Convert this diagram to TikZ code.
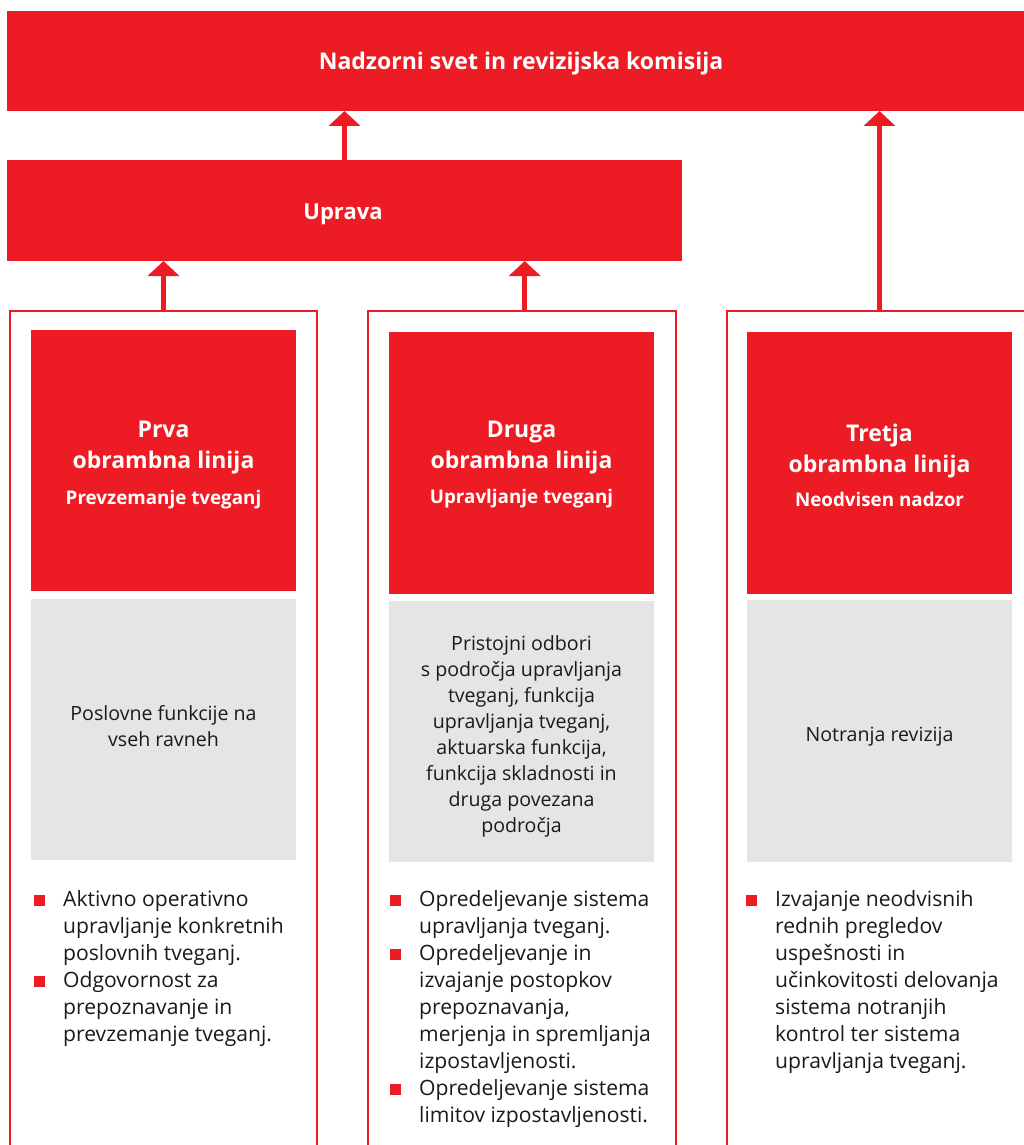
\documentclass[tikz,border=0pt]{standalone}
\usepackage{fontspec}
\setmainfont{Open Sans}
\usetikzlibrary{arrows.meta}
\definecolor{brandred}{HTML}{ED1C24}
\definecolor{panelgray}{HTML}{E7E5E3}
\definecolor{ink}{HTML}{1A1A1A}

\begin{document}
\begin{tikzpicture}[x=1pt,y=-1pt,
  bar/.style={fill=brandred, anchor=north west, inner sep=0pt, outer sep=0pt},
  bartxt/.style={anchor=base, inner sep=0pt, text=white, font=\bfseries},
  colframe/.style={draw=brandred, line width=2pt, anchor=north west, inner sep=0pt,
    outer sep=0pt, minimum height=850pt},
  headbox/.style={fill=brandred, anchor=north west, inner sep=0pt, outer sep=0pt,
    minimum width=265pt},
  graybox/.style={fill=panelgray, anchor=north west, inner sep=0pt, outer sep=0pt,
    minimum width=265pt},
  graytxt/.style={anchor=base, inner sep=0pt, text=ink,
    font=\fontsize{19.6}{26}\selectfont},
  headtxt/.style={anchor=base, inner sep=0pt, text=white,
    font=\fontsize{23}{31}\selectfont\bfseries},
  subtxt/.style={anchor=base, inner sep=0pt, text=white,
    font=\fontsize{18.8}{22}\selectfont\bfseries},
  item/.style={anchor=base west, inner sep=0pt, text=ink,
    font=\fontsize{21.1}{27}\selectfont},
  bsq/.style={fill=brandred, anchor=south west, inner sep=0pt, minimum size=10.5pt},
  arr/.style={draw=brandred, line width=4.8pt, -{Triangle[width=31pt,length=15pt]}}
]
\useasboundingbox (0,0) rectangle (1024,1145);
\fill[white] (0,0) rectangle (1024,1145);
\clip (0,0) rectangle (1024,1145);

% governing bodies
\node[bar, minimum width=1028pt, minimum height=100pt] (top) at (7,11) {};
\node[bartxt, font=\fontsize{23}{28}\selectfont\bfseries] (toptxt) at (521,70)
  {Nadzorni svet in revizijska komisija};
\node[bar, minimum width=675pt, minimum height=101pt] (uprava) at (7,160) {};
\node[bartxt, font=\fontsize{22}{28}\selectfont\bfseries] (upravatxt) at (343,219) {Uprava};

% column frames
\node[colframe, minimum width=307pt] (f1) at (10,310.5) {};
\node[colframe, minimum width=308pt] (f2) at (367.7,310.5) {};
\node[colframe, minimum width=320pt] (f3) at (726.5,310.5) {};

% red heading boxes
\node[headbox, minimum height=261pt] (r1) at (31,330) {};
\node[headbox, minimum height=262pt] (r2) at (389,332) {};
\node[headbox, minimum height=262pt] (r3) at (747,332) {};

\node[headtxt] (h1) at (163.5,437) {\parbox[t]{260pt}{\centering Prva\\obrambna linija}};
\node[subtxt] (s1) at (163.5,504) {Prevzemanje tveganj};
\node[headtxt] (h2) at (521.5,437) {\parbox[t]{260pt}{\centering Druga\\obrambna linija}};
\node[subtxt] (s2) at (521.5,503) {Upravljanje tveganj};
\node[headtxt] (h3) at (879.5,441) {\parbox[t]{260pt}{\centering Tretja\\obrambna linija}};
\node[subtxt] (s3) at (879.5,506) {Neodvisen nadzor};

% grey function boxes
\node[graybox, minimum height=261pt] (g1) at (31,599) {};
\node[graybox, minimum height=261pt] (g2) at (389,601) {};
\node[graybox, minimum height=262pt] (g3) at (747,600) {};

\node[graytxt] (t1) at (163.5,720)
  {\parbox[t]{260pt}{\centering Poslovne funkcije na\\vseh ravneh}};
\node[graytxt] (t2) at (521.5,650)
  {\parbox[t]{260pt}{\centering Pristojni odbori\\s področja upravljanja\\tveganj, funkcija\\upravljanja tveganj,\\aktuarska funkcija,\\funkcija skladnosti in\\druga povezana\\področja}};
\node[graytxt] (t3) at (879.5,741) {Notranja revizija};

% bullet lists
\node[item] (i11) at (63,906)
  {\parbox[t]{250pt}{\raggedright Aktivno operativno\\upravljanje konkretnih\\poslovnih tveganj.}};
\node[item] (i12) at (63,987)
  {\parbox[t]{250pt}{\raggedright Odgovornost za\\prepoznavanje in\\prevzemanje tveganj.}};
\node[item] (i21) at (419,906)
  {\parbox[t]{250pt}{\raggedright Opredeljevanje sistema\\upravljanja tveganj.}};
\node[item] (i22) at (419,960)
  {\parbox[t]{250pt}{\raggedright Opredeljevanje in\\izvajanje postopkov\\prepoznavanja,\\merjenja in spremljanja\\izpostavljenosti.}};
\node[item] (i23) at (419,1095)
  {\parbox[t]{250pt}{\raggedright Opredeljevanje sistema\\limitov izpostavljenosti.}};
\node[item] (i31) at (775,906)
  {\parbox[t]{250pt}{\raggedright Izvajanje neodvisnih\\rednih pregledov\\uspešnosti in\\učinkovitosti delovanja\\sistema notranjih\\kontrol ter sistema\\upravljanja tveganj.}};

\foreach \it in {i11,i12,i21,i22,i23,i31}
  \node[bsq] (b-\it) at ([xshift=-29pt]\it.base west) {};

% reporting arrows
\draw[arr] (uprava.north) -- (uprava.north |- top.south);
\draw[arr] (f1.north) -- (f1.north |- uprava.south);
\coordinate (a2) at ([xshift=3pt]f2.north);
\draw[arr] (a2) -- (a2 |- uprava.south);
\coordinate (a3) at (r3.north |- f3.north);
\draw[arr] (a3) -- (a3 |- top.south);
\end{tikzpicture}
\end{document}
